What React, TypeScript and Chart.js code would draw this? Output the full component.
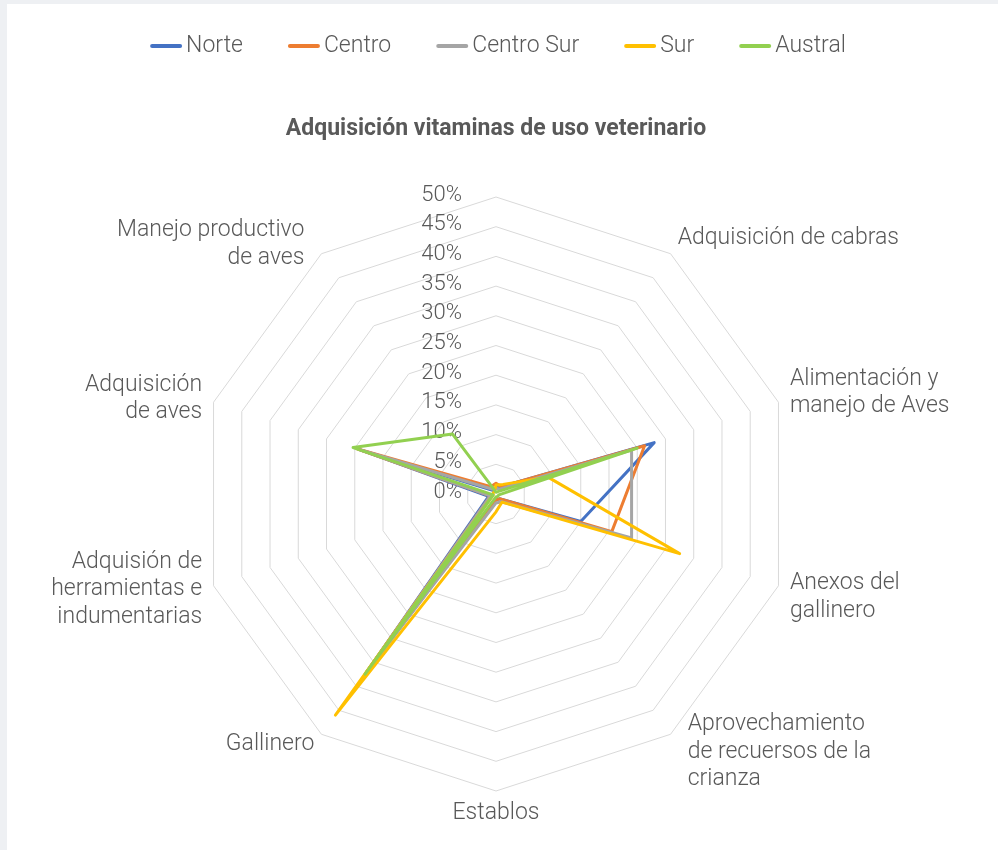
import React, { useEffect, useRef } from 'react';
import { Chart, registerables } from 'chart.js';

Chart.register(...registerables);

const categories: (string | string[])[] = [
  'Adquisición vitaminas de uso veterinario',
  'Adquisición de cabras',
  ['Alimentación y', 'manejo de Aves'],
  ['Anexos del', 'gallinero'],
  ['Aprovechamiento', 'de recuersos de la', 'crianza'],
  'Establos',
  'Gallinero',
  ['Adquisión de', 'herramientas e', 'indumentarias'],
  ['Adquisición', 'de aves'],
  ['Manejo productivo', 'de aves'],
];

const seriesNames = ['Norte', 'Centro', 'Centro Sur', 'Sur', 'Austral'];
const norte = [1, 1.5, 28, 15, 1, 1, 37, 1.3, 24, 0.7];
const centro = [1.8, 1.5, 26.3, 20.5, 1, 1, 37.5, 1, 24.5, 1.5];
const centroSur = [1, 1, 24, 24, 1.6, 1.5, 37, 1, 24, 1];
const sur = [1.5, 2, 9.2, 32.5, 1.7, 3, 46, 0.5, 0.5, 0.5];
const austral = [0.3, 0.5, 25, 0.5, 0.5, 0.5, 37.5, 0.5, 25.3, 12.5];
const seriesValues = [norte, centro, centroSur, sur, austral];
const seriesColors = ['#4472C4', '#ED7D31', '#A5A5A5', '#FFC000', '#92D050'];

const tickValues = [0, 5, 10, 15, 20, 25, 30, 35, 40, 45, 50];
const tickLabels = ['0%', '5%', '10%', '15%', '20%', '25%', '30%', '35%', '40%', '45%', '50%'];

const TEXT_COLOR = '#595959';
const TICK_FONT = '300 22px Roboto';
const LABEL_FONT = '300 23px Roboto';
const TITLE_FONT = 'bold 23px Roboto';

const decorPlugin = {
  id: 'excelDecor',
  beforeDatasetsDraw(chart: any) {
    const ctx = chart.ctx as CanvasRenderingContext2D;
    const r = chart.scales.r;
    ctx.save();
    ctx.font = TICK_FONT;
    ctx.fillStyle = TEXT_COLOR;
    ctx.textAlign = 'right';
    ctx.textBaseline = 'middle';
    tickValues.forEach((v, i) => {
      const d = r.getDistanceFromCenterForValue(v);
      ctx.fillText(tickLabels[i], r.xCenter - 34, r.yCenter - d - 2);
    });
    ctx.restore();
  },
  afterDraw(chart: any) {
    const ctx = chart.ctx as CanvasRenderingContext2D;
    const r = chart.scales.r;
    ctx.save();
    ctx.fillStyle = TEXT_COLOR;
    ctx.textBaseline = 'middle';

    // point labels (Excel-like placement)
    const lineH = 27.5;
    chart.data.labels.forEach((lbl: string | string[], i: number) => {
      const lines = Array.isArray(lbl) ? lbl : [lbl];
      if (i === 0) {
        ctx.font = TITLE_FONT;
        ctx.textAlign = 'center';
        const p = r.getPointPosition(0, r.drawingArea + 68);
        ctx.fillText(lines[0], p.x, p.y);
        return;
      }
      ctx.font = LABEL_FONT;
      const theta = r.getIndexAngle(i);
      const s = Math.sin(theta);
      const c = Math.cos(theta);
      const p = r.getPointPosition(i, r.drawingArea + 12);
      ctx.textAlign = Math.abs(s) < 0.05 ? 'center' : s > 0 ? 'left' : 'right';
      let x = p.x;
      if (lines.length > 1 && Math.abs(c) > 0.5) x += Math.sign(s) * 10;
      const h = lines.length * lineH;
      let yc = p.y;
      if (Math.abs(s) < 0.05) yc = p.y - c * 10;
      else if (s > 0) yc = p.y - Math.sign(c) * 7 + 1;
      lines.forEach((t, k) => {
        ctx.fillText(t, x, yc - h / 2 + lineH / 2 + k * lineH);
      });
    });

    // legend
    ctx.font = LABEL_FONT;
    ctx.textAlign = 'left';
    const ds = chart.data.datasets;
    const widths = ds.map((d: any) => ctx.measureText(d.label).width);
    const itemGap = 45;
    const total = widths.reduce((a: number, w: number) => a + 36 + w, 0) + itemGap * (ds.length - 1);
    let x = 498 - total / 2;
    const y = 46;
    ds.forEach((d: any, i: number) => {
      ctx.strokeStyle = d.borderColor;
      ctx.lineWidth = 4;
      ctx.lineCap = 'round';
      ctx.beginPath();
      ctx.moveTo(x + 2, y);
      ctx.lineTo(x + 30, y);
      ctx.stroke();
      ctx.fillText(d.label, x + 36, y);
      x += 36 + widths[i] + itemGap;
    });
    ctx.restore();
  },
};

export default function App() {
  const ref = useRef<HTMLCanvasElement | null>(null);
  useEffect(() => {
    if (!ref.current) return;
    const chart = new Chart(ref.current, {
      type: 'radar',
      data: {
        labels: categories,
        datasets: seriesNames.map((name, i) => ({
          label: name,
          data: seriesValues[i],
          borderColor: seriesColors[i],
          backgroundColor: seriesColors[i],
          borderWidth: 3,
          pointRadius: 0,
          pointHoverRadius: 0,
          fill: false,
          tension: 0,
          borderJoinStyle: 'round' as const,
          order: seriesNames.length - 1 - i,
        })),
      },
      options: {
        animation: false,
        responsive: false,
        layout: { padding: { left: 199, right: 205, top: 197, bottom: 59 } },
        plugins: {
          legend: { display: false },
          title: { display: false },
          tooltip: { enabled: false },
        },
        scales: {
          r: {
            min: 0,
            max: 50,
            ticks: { stepSize: 5, display: false },
            grid: { color: '#d9d9d9', lineWidth: 1 },
            angleLines: { display: false },
            pointLabels: { display: false },
          },
        },
      },
      plugins: [decorPlugin],
    });
    return () => chart.destroy();
  }, []);

  return (
    <div style={{ position: 'fixed', inset: 0, background: '#eef0f3' }}>
      <div style={{ position: 'absolute', left: 7, top: 4, right: 0, bottom: 0, background: '#ffffff' }} />
      <canvas ref={ref} width={998} height={850} style={{ position: 'absolute', left: 0, top: 0 }} />
    </div>
  );
}
